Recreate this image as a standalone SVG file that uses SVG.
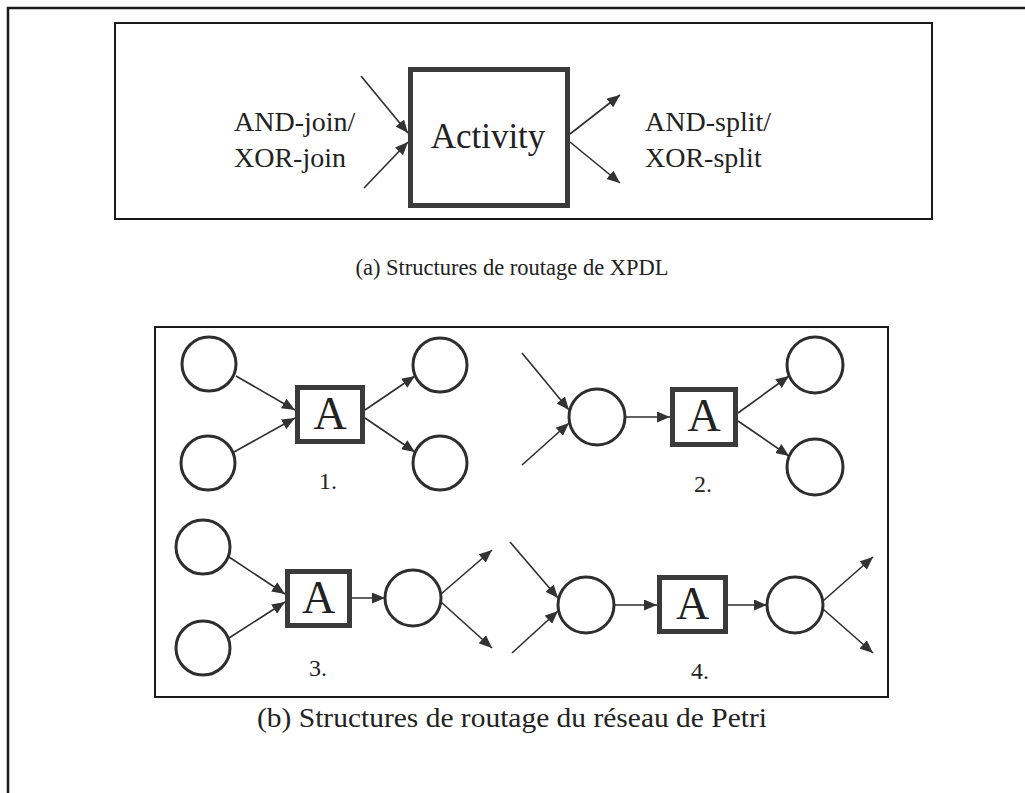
<svg xmlns="http://www.w3.org/2000/svg" width="1025" height="793" viewBox="0 0 1025 793">
<style>
.frame{fill:none;stroke:#1a1a1a;stroke-width:2.5}
.box{fill:#fff;stroke:#1a1a1a;stroke-width:2}
.act{fill:#fff;stroke:#3a3a3a;stroke-width:5}
.place{fill:#fff;stroke:#2e2e2e;stroke-width:3}
.arc{fill:none;stroke:#2e2e2e;stroke-width:1.6;marker-end:url(#ah)}
.t{font-family:"Liberation Serif","Times New Roman",serif;fill:#222}
</style>
<defs>
<marker id="ah" markerUnits="userSpaceOnUse" markerWidth="13" markerHeight="11" refX="13" refY="5.5" orient="auto">
<path d="M0,0 L13,5.5 L0,11 z" fill="#333"/>
</marker>
</defs>
<rect width="1025" height="793" fill="#fff"/>
<path class="frame" d="M8,793 V8 H1025"/>
<g id="panel-a">
<rect class="box" x="115" y="23" width="817" height="196"/>
</g>
<g id="activity">
<rect class="act" x="410.5" y="69.5" width="157" height="136"/>
<text class="t" x="488" y="148" font-size="35" text-anchor="middle">Activity</text>
</g>
<g id="join-label">
<text class="t" x="234" y="131" font-size="28">AND-join/</text>
<text class="t" x="234" y="167" font-size="28">XOR-join</text>
</g>
<g id="split-label">
<text class="t" x="645" y="131" font-size="28">AND-split/</text>
<text class="t" x="645" y="167" font-size="28">XOR-split</text>
</g>
<text id="caption-a" class="t" x="512" y="275" font-size="22.5" text-anchor="middle">(a) Structures de routage de XPDL</text>
<g id="panel-b">
<rect class="box" x="155" y="327" width="733" height="370"/>
</g>
<g id="net1">
<circle id="p1a" class="place" cx="209" cy="364" r="27"/>
<circle id="p1b" class="place" cx="208" cy="463" r="27"/>
<g id="t1"><rect class="act" x="297.5" y="387.5" width="65" height="54"/>
<text class="t" x="330" y="429" font-size="46" text-anchor="middle">A</text></g>
<circle id="p1c" class="place" cx="440" cy="365" r="27"/>
<circle id="p1d" class="place" cx="440" cy="463" r="27"/>
<text class="t" x="328" y="489" font-size="24" text-anchor="middle">1.</text>
</g>
<g id="net2">
<circle id="p2a" class="place" cx="597" cy="417" r="28"/>
<g id="t2"><rect class="act" x="672.5" y="389.5" width="63" height="55"/>
<text class="t" x="704" y="431" font-size="46" text-anchor="middle">A</text></g>
<circle id="p2b" class="place" cx="815" cy="365" r="28"/>
<circle id="p2c" class="place" cx="815" cy="467" r="28"/>
<text class="t" x="703" y="492" font-size="24" text-anchor="middle">2.</text>
</g>
<g id="net3">
<circle id="p3a" class="place" cx="203" cy="547" r="27"/>
<circle id="p3b" class="place" cx="203" cy="648" r="27"/>
<g id="t3"><rect class="act" x="287.5" y="571.5" width="62" height="54"/>
<text class="t" x="318.5" y="613" font-size="46" text-anchor="middle">A</text></g>
<circle id="p3c" class="place" cx="413" cy="598" r="28"/>
<text class="t" x="318" y="676" font-size="24" text-anchor="middle">3.</text>
</g>
<g id="net4">
<circle id="p4a" class="place" cx="586" cy="605" r="28"/>
<g id="t4"><rect class="act" x="659.5" y="577.5" width="66" height="54"/>
<text class="t" x="692.5" y="619" font-size="46" text-anchor="middle">A</text></g>
<circle id="p4b" class="place" cx="795" cy="605" r="28"/>
<text class="t" x="700" y="679" font-size="24" text-anchor="middle">4.</text>
</g>
<text id="caption-b" class="t" x="512" y="727" font-size="27" text-anchor="middle" textLength="510" lengthAdjust="spacingAndGlyphs">(b) Structures de routage du réseau de Petri</text>
<g id="connectors">
<line class="arc" x1="361" y1="76" x2="408" y2="133"/>
<line class="arc" x1="364" y1="188" x2="408" y2="142"/>
<line class="arc" x1="570" y1="134" x2="620" y2="95"/>
<line class="arc" x1="570" y1="142" x2="620" y2="183"/>
<line class="arc" x1="236" y1="376" x2="295" y2="410"/>
<line class="arc" x1="234" y1="452" x2="295" y2="418"/>
<line class="arc" x1="365" y1="410" x2="415" y2="376"/>
<line class="arc" x1="365" y1="418" x2="415" y2="452"/>
<line class="arc" x1="522" y1="353" x2="569" y2="410"/>
<line class="arc" x1="522" y1="465" x2="569" y2="423"/>
<line class="arc" x1="625" y1="417" x2="670" y2="417"/>
<line class="arc" x1="738" y1="413" x2="789" y2="376"/>
<line class="arc" x1="738" y1="421" x2="789" y2="456"/>
<line class="arc" x1="229" y1="557" x2="285" y2="594"/>
<line class="arc" x1="229" y1="638" x2="285" y2="602"/>
<line class="arc" x1="352" y1="598" x2="385" y2="598"/>
<line class="arc" x1="441" y1="594" x2="492" y2="550"/>
<line class="arc" x1="441" y1="602" x2="492" y2="648"/>
<line class="arc" x1="510" y1="542" x2="558" y2="598"/>
<line class="arc" x1="512" y1="653" x2="558" y2="611"/>
<line class="arc" x1="614" y1="605" x2="657" y2="605"/>
<line class="arc" x1="728" y1="605" x2="767" y2="605"/>
<line class="arc" x1="823" y1="601" x2="873" y2="557"/>
<line class="arc" x1="823" y1="609" x2="873" y2="653"/>
</g>
</svg>
